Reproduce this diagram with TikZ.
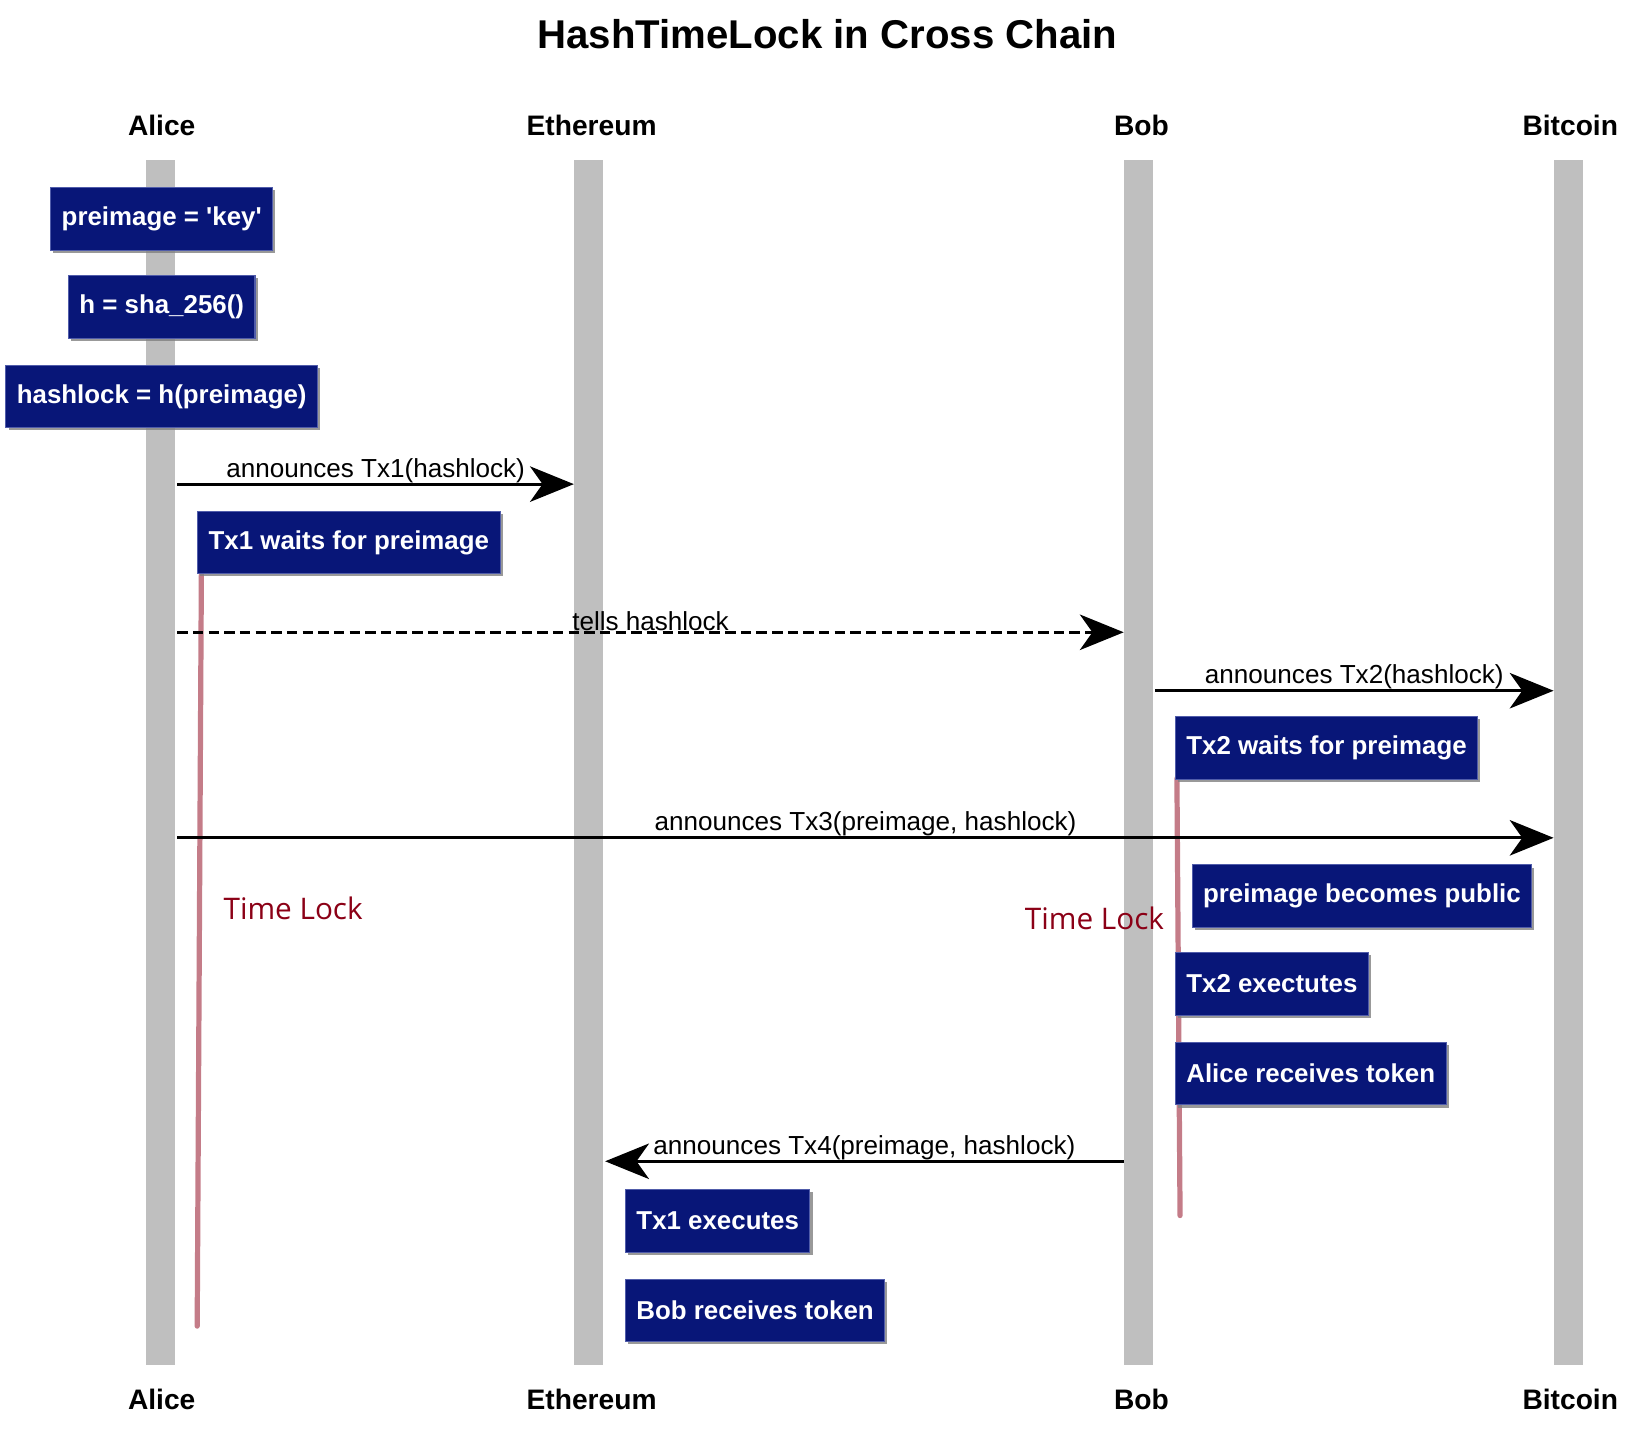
\documentclass[tikz,border=0pt]{standalone}
\usepackage{fontspec}
\setmainfont{Liberation Sans}
\newfontfamily\lockfont{Open Sans}
\usetikzlibrary{arrows.meta}
\usetikzlibrary{shadows}
\definecolor{notebg}{RGB}{8,22,120}
\definecolor{noteedge}{RGB}{80,92,170}
\definecolor{lifegray}{RGB}{191,191,191}
\definecolor{lockpink}{RGB}{196,124,136}
\definecolor{lockred}{RGB}{139,0,22}
\newcommand{\lifeline}[4] % name, x in px, label shift, label
{
	% grey bar
	\fill[lifegray] (#2-14,153) rectangle (#2+14,1308);
	% label on top and at the bottom
	\node[actor] (#1top) at (#2+#3,120) {#4};
	\node[actor] (#1bot) at (#2+#3,1341) {#4};
}
\newcommand{\msg}[6][] % extra style, name, x from, x to, y, label
{
	\coordinate (#2a) at (#3,#5);
	\coordinate (#2b) at (#4,#5);
	\draw[message,#1] (#2a) -- node[msglabel] (#2l) {#6} (#2b);
}

\begin{document}
\begin{tikzpicture}[x=1pt, y=-1pt,
	actor/.style={font=\fontsize{27}{32}\selectfont\bfseries},
	notebox/.style={fill=notebg, draw=noteedge, line width=1pt, text=white, font=\fontsize{24.8}{30}\selectfont\bfseries, minimum height=60pt, inner xsep=10.5pt, drop shadow={shadow xshift=2.5pt, shadow yshift=-2.5pt, opacity=0.8}},
	message/.style={line width=3pt, -{Stealth[length=42pt, width=34pt, inset=12pt]}},
	msglabel/.style={above, inner sep=0pt, font=\fontsize{25}{30}\selectfont},
	lockline/.style={draw=lockpink, line width=5pt, line cap=round},
	locklabel/.style={text=lockred, font=\lockfont\fontsize{28.5}{34}\selectfont}]
	% page: 1568 x 1378 px
	\useasboundingbox (0,0) rectangle (1568,1378);
	\node[font=\fontsize{38.5}{46}\selectfont\bfseries] (title) at (793,33) {HashTimeLock in Cross Chain};
	
	\lifeline{alice}{154}{1}{Alice};
	\lifeline{eth}{564}{3}{Ethereum};
	\lifeline{bob}{1091}{3}{Bob};
	\lifeline{btc}{1503}{2}{Bitcoin};
	
	% time locks
	\coordinate (lockatop) at (193,549);
	\coordinate (lockabot) at (189,1271);
	\coordinate (lockbtop) at (1128,746);
	\coordinate (lockbbot) at (1131,1165);
	\draw[lockline] (lockatop) -- (lockabot);
	\draw[lockline] (lockbtop) -- (lockbbot);
	\node[locklabel] (locka) at (281,871) {Time Lock};
	\node[locklabel] (lockb) at (1049,880) {Time Lock};
	
	% messages
	\msg{mone}{170}{550}{464}{announces Tx1(hashlock)};
	\msg[dash pattern=on 10pt off 5pt]{mtwo}{170}{1077}{606}{tells hashlock};
	\msg{mthree}{1107}{1489}{662}{announces Tx2(hashlock)};
	\msg{mfour}{170}{1489}{803}{announces Tx3(preimage, hashlock)};
	\msg{mfive}{1077}{580}{1113}{announces Tx4(preimage, hashlock)};
	
	% notes
	\node[notebox] (preimage) at (155,210) {preimage = \textquotesingle key\textquotesingle};
	\node[notebox] (sha) at (155,294) {h = sha\_256()};
	\node[notebox] (hashlock) at (155,380) {hashlock = h(preimage)};
	\node[notebox, anchor=west] (txonewait) at (189,520) {Tx1 waits for preimage};
	\node[notebox, anchor=west] (txtwowait) at (1126,717) {Tx2 waits for preimage};
	\node[notebox, anchor=west] (public) at (1142,859) {preimage becomes public};
	\node[notebox, anchor=west] (txtwoexec) at (1126,943) {Tx2 exectutes};
	\node[notebox, anchor=west] (alicegets) at (1126,1029) {Alice receives token};
	\node[notebox, anchor=west] (txoneexec) at (599,1170) {Tx1 executes};
	\node[notebox, anchor=west] (bobgets) at (599,1256) {Bob receives token};
\end{tikzpicture}
\end{document}
